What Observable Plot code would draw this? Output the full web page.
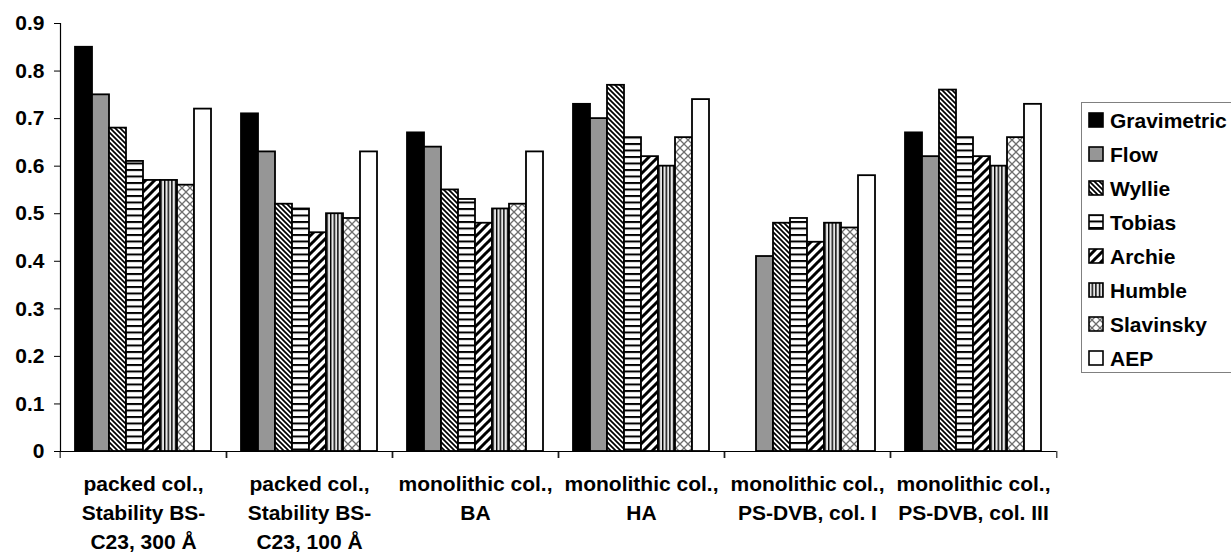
<!DOCTYPE html>
<html>
<head>
<meta charset="utf-8">
<script src="https://cdn.jsdelivr.net/npm/d3@7"></script>
<script src="https://cdn.jsdelivr.net/npm/@observablehq/plot@0.6"></script>
<style>
  html, body { margin: 0; padding: 0; background: #fff; overflow: hidden; }
  #wrap { position: relative; width: 1231px; height: 552px; overflow: hidden;
          font-family: "Liberation Sans", Arial, sans-serif; font-weight: bold; }
  #legend { position: absolute; left: 1081px; top: 102px; width: 170px; height: 271px;
            border: 1px solid #808080; box-sizing: border-box; background: #fff; }
  .row { position: absolute; left: 6px; height: 34px; display: flex; align-items: center; }
  .row svg { display: block; margin-right: 6px; }
  .row span { font-size: 21px; color: #000; line-height: 1; }
</style>
</head>
<body>
<svg width="0" height="0" style="position:absolute">
  <defs>
    <pattern id="p-wyllie" patternUnits="userSpaceOnUse" width="5" height="5">
      <rect width="5" height="5" fill="#fff"/>
      <path d="M-1,-1 L6,6 M-1,4 L1,6 M4,-1 L6,1" stroke="#000" stroke-width="1.7"/>
    </pattern>
    <pattern id="p-tobias" patternUnits="userSpaceOnUse" width="6" height="6.5">
      <rect width="6" height="6.5" fill="#fff"/>
      <rect y="0" width="6" height="2" fill="#000"/>
    </pattern>
    <pattern id="p-archie" patternUnits="userSpaceOnUse" width="9" height="9">
      <rect width="9" height="9" fill="#fff"/>
      <path d="M-1,10 L10,-1 M-1,1 L1,-1 M8,10 L10,8" stroke="#000" stroke-width="3"/>
    </pattern>
    <pattern id="p-humble" patternUnits="userSpaceOnUse" width="3.6" height="4">
      <rect width="3.6" height="4" fill="#e8e8e8"/>
      <rect x="0" width="1.4" height="4" fill="#000"/>
    </pattern>
    <pattern id="p-slav" patternUnits="userSpaceOnUse" width="8" height="8">
      <rect width="8" height="8" fill="#fff"/>
      <path d="M0,0 L8,8 M8,0 L0,8" stroke="#6e6e6e" stroke-width="1.3"/>
    </pattern>
  </defs>
</svg>
<div id="wrap"><div id="legend"></div></div>
<script>
// ---- data ----
const groups = [
  "packed col.,\nStability BS-\nC23, 300 Å",
  "packed col.,\nStability BS-\nC23, 100 Å",
  "monolithic col.,\nBA",
  "monolithic col.,\nHA",
  "monolithic col.,\nPS-DVB, col. I",
  "monolithic col.,\nPS-DVB, col. III"
];
const series = ["Gravimetric", "Flow", "Wyllie", "Tobias", "Archie", "Humble", "Slavinsky", "AEP"];
const gravimetric = [0.85, 0.71, 0.67, 0.73, null, 0.67];
const flow        = [0.75, 0.63, 0.64, 0.70, 0.41, 0.62];
const wyllie      = [0.68, 0.52, 0.55, 0.77, 0.48, 0.76];
const tobias      = [0.61, 0.51, 0.53, 0.66, 0.49, 0.66];
const archie      = [0.57, 0.46, 0.48, 0.62, 0.44, 0.62];
const humble      = [0.57, 0.50, 0.51, 0.60, 0.48, 0.60];
const slavinsky   = [0.56, 0.49, 0.52, 0.66, 0.47, 0.66];
const aep         = [0.72, 0.63, 0.63, 0.74, 0.58, 0.73];
const yTicks = [0, 0.1, 0.2, 0.3, 0.4, 0.5, 0.6, 0.7, 0.8, 0.9];

// ---- styles ----
const fills = ["#000000", "#969696", "url(#p-wyllie)", "url(#p-tobias)", "url(#p-archie)",
               "url(#p-humble)", "url(#p-slav)", "#ffffff"];

const values = [gravimetric, flow, wyllie, tobias, archie, humble, slavinsky, aep];
const data = groups.flatMap((g, i) =>
  series.map((s, j) => ({group: g, series: s, value: values[j][i]}))
).filter(d => d.value != null);

const W = 1231, H = 552, mL = 58, mR = 173, mT = 23, mB = 101;
const half = (W - mL - mR) / groups.length / 2;
const font = { fontSize: 21, fontWeight: "bold" };

const chart = Plot.plot({
  width: W, height: H,
  marginLeft: mL, marginRight: mR, marginTop: mT, marginBottom: mB,
  style: { fontFamily: "'Liberation Sans', Arial, sans-serif", fontWeight: "bold", color: "#000", background: "#fff" },
  fx: { domain: groups, padding: 0, label: null },
  x: { domain: series, paddingInner: 0, paddingOuter: 0.69, axis: null },
  y: { domain: [0, 0.9], label: null },
  color: { domain: series, range: fills },
  marks: [
    Plot.barY(data, { fx: "group", x: "series", y: "value", fill: "series", stroke: "#000", strokeWidth: 1.8 }),
    Plot.ruleY([0], { stroke: "#000", strokeWidth: 1.2 }),
    Plot.frame({ anchor: "left", facetAnchor: "left", stroke: "#000", strokeWidth: 1.2 }),
    Plot.axisY({ ticks: yTicks, tickSize: 6, tickPadding: 10, tickFormat: d => d === 0 ? "0" : d3.format(".1f")(d),
                 label: null, fontSize: 21, fontWeight: "bold", stroke: "#000" }),
    Plot.axisFx({ anchor: "bottom", text: null, tickSize: 7, dx: -half, label: null }),
    Plot.axisFx({ anchor: "bottom", text: null, tickSize: 7, dx: half, label: null }),
    Plot.axisFx({ anchor: "bottom", tickSize: 0, tickPadding: 19, label: null, lineHeight: 1.38, ...font })
  ]
});
const wrap = document.getElementById("wrap");
wrap.insertBefore(chart, wrap.firstChild);

// ---- legend ----
const legend = document.getElementById("legend");
series.forEach((s, i) => {
  const row = document.createElement("div");
  row.className = "row";
  row.style.top = (i * 34) + "px";
  row.innerHTML = `<svg width="16" height="16"><rect x="1" y="1" width="14" height="14" fill="${fills[i]}" stroke="#000" stroke-width="1.6"/></svg><span>${s}</span>`;
  legend.appendChild(row);
});
</script>
</body>
</html>
